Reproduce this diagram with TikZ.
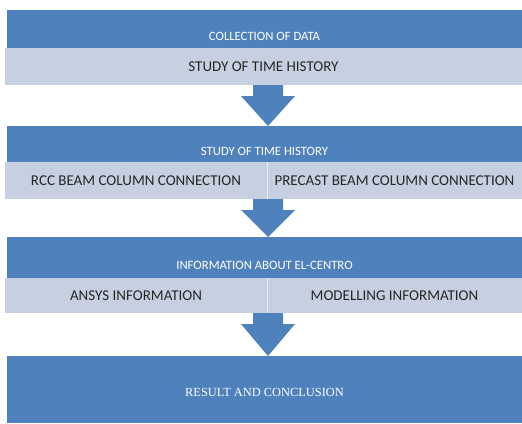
\documentclass[tikz,border=0pt]{standalone}
\usepackage{fontspec}
\setmainfont{Carlito}
\newfontfamily\resultfont{Liberation Serif}
\usetikzlibrary{positioning,calc}
\definecolor{mBlue}{RGB}{79,129,189}
\definecolor{mPale}{RGB}{199,208,225}
\definecolor{mInk}{RGB}{38,38,38}
\tikzset{
  hdrbox/.style={fill=mBlue, text=white, inner sep=0pt, outer sep=0pt,
    anchor=north west, minimum width=515pt,
    font=\fontsize{12.7}{15}\selectfont, text height=23pt, text depth=0pt},
  subbox/.style={fill=mPale, text=mInk, inner sep=0pt, outer sep=0pt,
    anchor=north west, minimum height=37pt,
    font=\fontsize{15}{18}\selectfont},
  divln/.style={line width=0.6pt, white!55!mPale},
}
\newcommand{\flowarrow}[2]{%
  \fill[mBlue] ($(#1.south -| mid)+(-15,0)$) -- ++(30,0) -- ++(0,11)
    -- ++(12,0) -- (#2.north -| mid) -- ($(#1.south -| mid)+(-27,11)$)
    -- ++(12,0) -- cycle;
}

\begin{document}
\begin{tikzpicture}[x=1pt, y=-1pt]
    \useasboundingbox (0,0) rectangle (522,423);
    \coordinate (mid) at (268,0);
    % step 1
    \node[hdrbox, minimum height=38pt] (hdr1) at (7,10) {COLLECTION OF DATA};
    \node[subbox, minimum width=517pt] (sub1) at (5,48) {STUDY OF TIME HISTORY};
    % step 2
    \node[hdrbox, minimum height=36pt] (hdr2) at (7,126) {STUDY OF TIME HISTORY};
    \node[subbox, minimum width=262pt] (rcc) at (5,162) {RCC BEAM COLUMN CONNECTION};
    \node[subbox, minimum width=255pt, right=0pt of rcc] (pre)
      {PRECAST BEAM COLUMN CONNECTION};
    \draw[divln] (rcc.north east) -- (rcc.south east);
    % step 3
    \node[hdrbox, minimum height=41pt] (hdr3) at (7,237) {INFORMATION ABOUT EL-CENTRO};
    \node[subbox, minimum width=262pt, minimum height=35pt] (ansys) at (5,278)
      {ANSYS INFORMATION};
    \node[subbox, minimum width=255pt, minimum height=35pt, right=0pt of ansys] (model)
      {MODELLING INFORMATION};
    \draw[divln] (ansys.north east) -- (ansys.south east);
    % result
    \node[hdrbox, minimum height=67pt, text height=13pt,
      font=\resultfont\fontsize{12.4}{15}\selectfont] (res) at (7,356)
      {RESULT AND CONCLUSION};
    % arrows
    \flowarrow{sub1}{hdr2}
    \flowarrow{rcc}{hdr3}
    \flowarrow{ansys}{res}
  \end{tikzpicture}
\end{document}
